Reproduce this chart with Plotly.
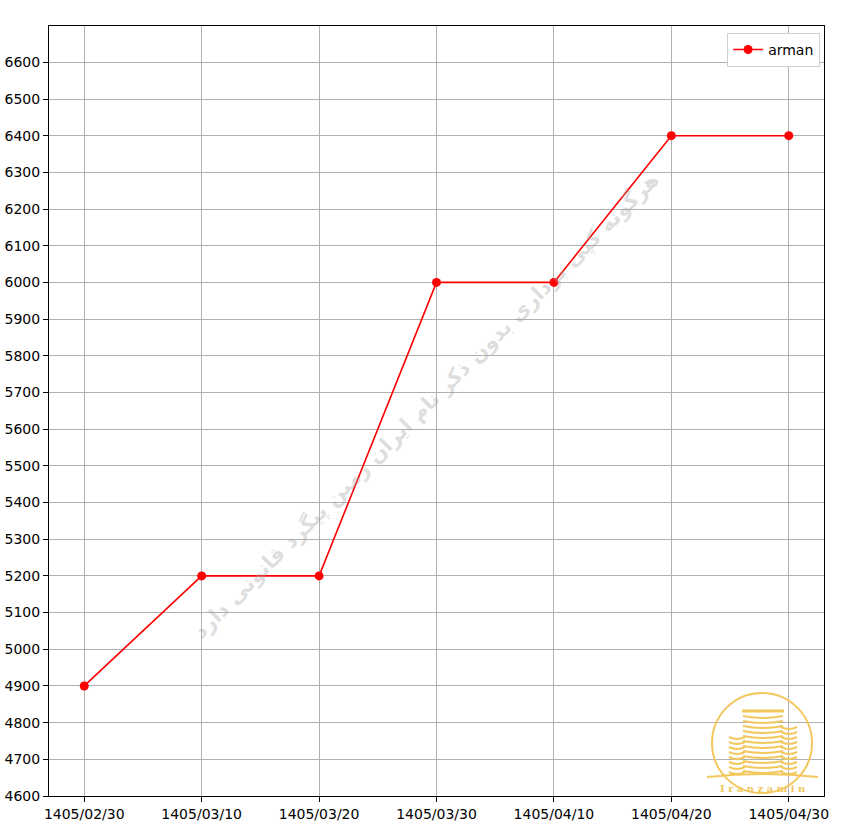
import plotly.graph_objects as go

dates = ["1405/02/30", "1405/03/10", "1405/03/20", "1405/03/30",
         "1405/04/10", "1405/04/20", "1405/04/30"]
prices = [4900, 5200, 5200, 6000, 6000, 6400, 6400]
y_ticks = list(range(4600, 6700, 100))

W, H = 848, 828
L, R, T, B = 49, 24, 26, 32
gold = "#f2c75c"


def px(x, y):
    # page pixel -> paper coords
    return (x - L) / (W - L - R), (H - B - y) / (H - T - B)


fig = go.Figure()
fig.add_trace(go.Scatter(
    x=dates, y=prices, mode="lines+markers", name="arman",
    line=dict(color="#ff0000", width=1.6),
    marker=dict(color="#ff0000", size=9),
))

shapes = []
# logo ring
x0, y0 = px(712, 793)
x1, y1 = px(812, 693)
shapes.append(dict(type="circle", xref="paper", yref="paper",
                   x0=x0, y0=y0, x1=x1, y1=y1,
                   line=dict(color=gold, width=2), layer="above"))
# logo buildings as curved stripes
for cx, half, ytop, ybot in [(737, 8, 737, 774), (789, 8, 727, 774), (763, 20, 716, 776)]:
    for yy in range(ytop, ybot, 5):
        a, b_ = px(cx - half, yy)
        m, mb = px(cx, yy + 4)
        c, _ = px(cx + half, yy)
        shapes.append(dict(type="path", xref="paper", yref="paper",
                           path=f"M {a},{b_} Q {m},{mb} {c},{b_}",
                           line=dict(color=gold, width=2), layer="above"))
# base swoosh
a, b_ = px(707, 777)
m, mb = px(763, 771)
c, _ = px(818, 777)
shapes.append(dict(type="path", xref="paper", yref="paper",
                   path=f"M {a},{b_} Q {m},{mb} {c},{b_}",
                   line=dict(color=gold, width=2), layer="above"))
# top ornament
a, b_ = px(742, 711)
c, _ = px(784, 711)
shapes.append(dict(type="line", xref="paper", yref="paper",
                   x0=a, y0=b_, x1=c, y1=b_,
                   line=dict(color=gold, width=3), layer="above"))

lx, ly = px(763, 788)
wx, wy = px(425, 405)
fig.update_layout(
    width=W, height=H,
    margin=dict(l=L, r=R, t=T, b=B),
    paper_bgcolor="white", plot_bgcolor="white",
    font=dict(family="DejaVu Sans", size=14, color="black"),
    showlegend=True,
    legend=dict(x=0.995, y=0.991, xanchor="right", yanchor="top",
                bordercolor="#d0d0d0", borderwidth=1, bgcolor="white",
                font=dict(size=14)),
    xaxis=dict(type="category", range=[-0.3, 6.3], automargin=False,
               showgrid=True, gridcolor="#b0b0b0", gridwidth=1,
               showline=True, linecolor="black", linewidth=1, mirror=True,
               ticks="outside", ticklen=5, tickcolor="black",
               tickfont=dict(size=14), zeroline=False),
    yaxis=dict(range=[4600, 6699], tickvals=y_ticks, automargin=False,
               showgrid=True, gridcolor="#b0b0b0", gridwidth=1,
               showline=True, linecolor="black", linewidth=1, mirror=True,
               ticks="outside", ticklen=5, tickcolor="black",
               tickfont=dict(size=14), zeroline=False),
    shapes=shapes,
    annotations=[
        dict(text="<b>هرگونه کپی برداری بدون ذکر نام ایران زمین پیگرد قانونی دارد</b>",
             xref="paper", yref="paper", x=wx, y=wy, showarrow=False,
             textangle=-45, font=dict(size=21, color="rgba(160,160,160,0.35)",
                                      family="DejaVu Sans")),
        dict(text="<b>I r a n z a m i n</b>", xref="paper", yref="paper",
             x=lx, y=ly, showarrow=False, xanchor="center", yanchor="middle",
             font=dict(size=10, color=gold, family="DejaVu Serif")),
    ],
)

# drop the browser's default body margin so the chart sits at the page corner
fig.write_html("out.html", config={"displayModeBar": False},
               post_script="document.body.style.margin='0';document.body.style.overflow='hidden';")
